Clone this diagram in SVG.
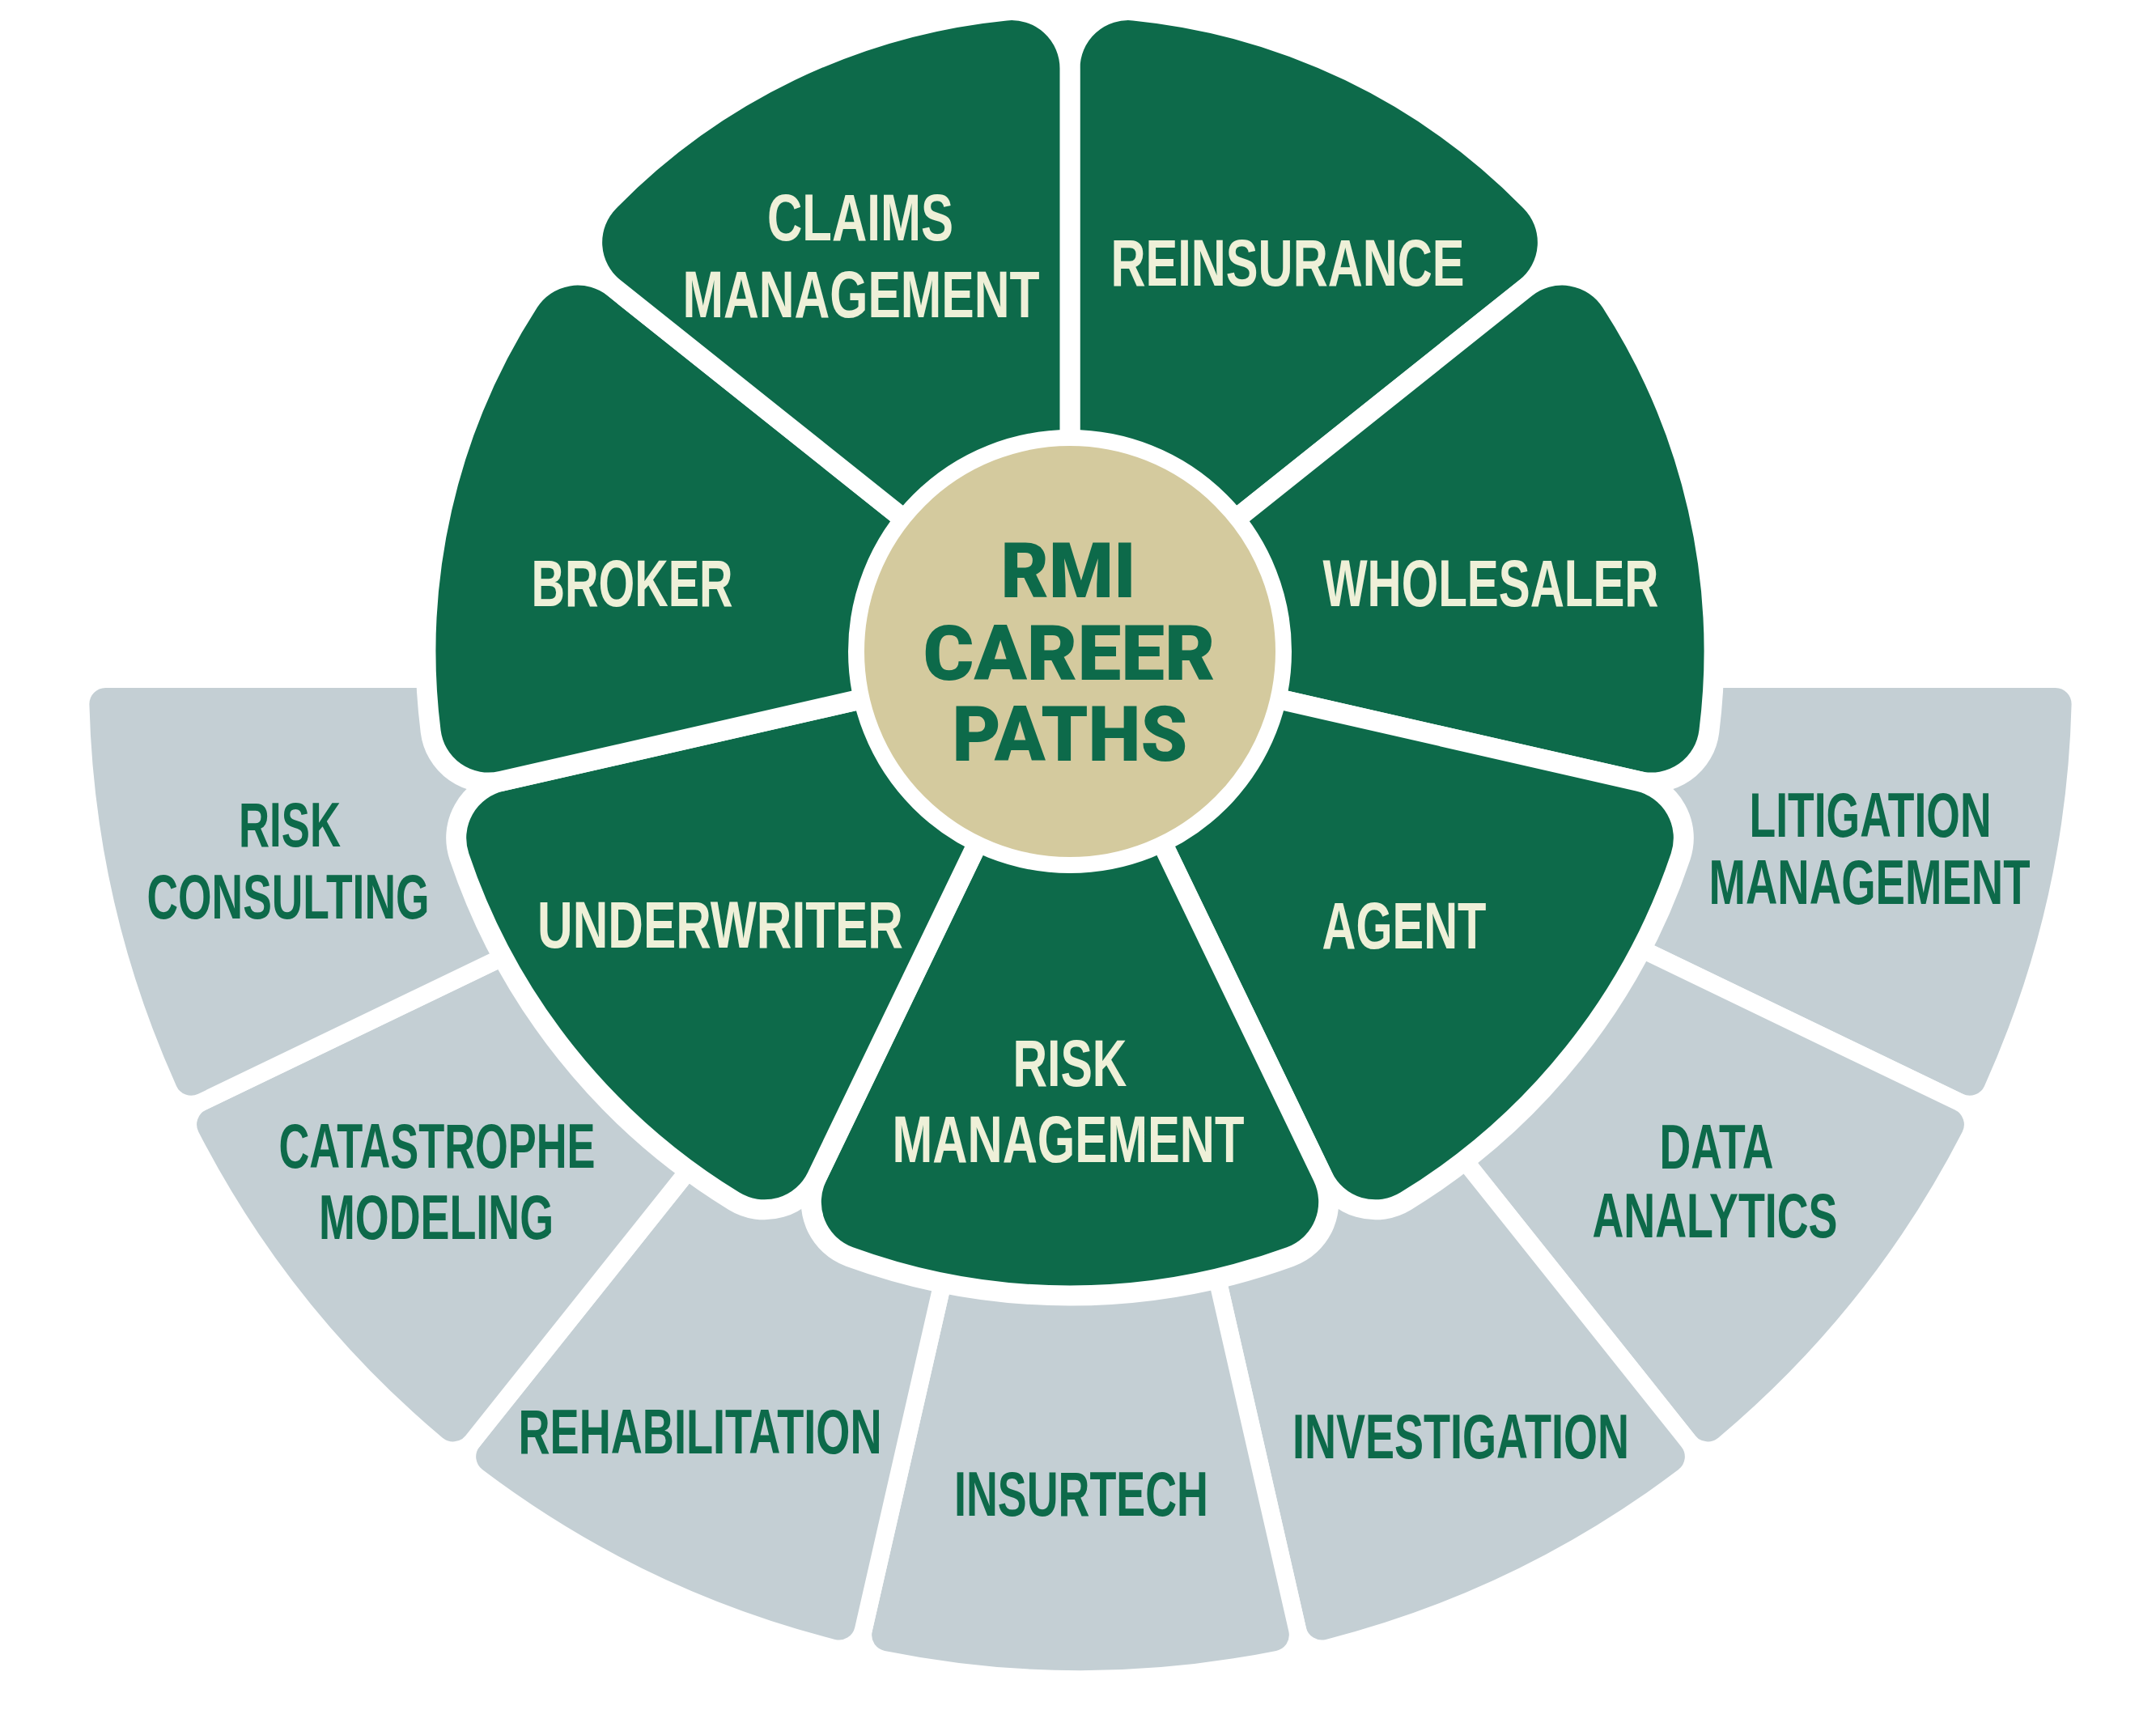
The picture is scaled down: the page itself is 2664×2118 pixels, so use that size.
<svg xmlns="http://www.w3.org/2000/svg" width="2664" height="2118" viewBox="0 0 2664 2118">
<style>
.petal{fill:#0D6A4A;stroke:#FFFFFF;stroke-width:25;stroke-linejoin:round}
.seg{fill:#C4CFD4;stroke:#FFFFFF;stroke-width:22;stroke-linejoin:round}
.pl{font-family:"Liberation Sans Narrow","Liberation Sans",Arial,sans-serif;font-weight:bold;font-size:82px;fill:#EEF0D8;text-anchor:middle}
.gl{font-family:"Liberation Sans Narrow","Liberation Sans",Arial,sans-serif;font-weight:bold;font-size:77px;fill:#0D6A4A;text-anchor:middle}
.ct{font-family:Roboto,"Liberation Sans",Arial,sans-serif;font-weight:900;font-size:94px;fill:#0D6A4A;text-anchor:middle}
</style>
<rect width="2664" height="2118" fill="#FFFFFF"/>
<g id="outer-ring">
<g id="seg-litigation-management">
<path class="seg" d="M1785,839 L2539.6,839 A31,31 0 0 1 2570.59,870.8 A1236,1236 0 0 1 2462.05,1346.46 A31,31 0 0 1 2420.31,1361.65 L1740.44,1034.25 A450,450 0 0 0 1785,839 Z"/>
<text class="gl" x="2311" y="1034" textLength="299" lengthAdjust="spacingAndGlyphs">LITIGATION</text>
<text class="gl" x="2310" y="1117" textLength="397" lengthAdjust="spacingAndGlyphs">MANAGEMENT</text>
</g>
<g id="seg-data-analytics">
<path class="seg" d="M1740.44,1034.25 L2420.31,1361.65 A31,31 0 0 1 2434.45,1403.75 A1236,1236 0 0 1 2130.24,1785.19 A31,31 0 0 1 2086.06,1780.79 L1615.57,1190.82 A450,450 0 0 0 1740.44,1034.25 Z"/>
<text class="gl" x="2121" y="1444" textLength="141" lengthAdjust="spacingAndGlyphs">DATA</text>
<text class="gl" x="2119" y="1529" textLength="303" lengthAdjust="spacingAndGlyphs">ANALYTICS</text>
</g>
<g id="seg-investigation">
<path class="seg" d="M1615.57,1190.82 L2086.06,1780.79 A31,31 0 0 1 2080.52,1824.86 A1236,1236 0 0 1 1640.95,2036.55 A31,31 0 0 1 1603.04,2013.4 L1435.13,1277.72 A450,450 0 0 0 1615.57,1190.82 Z"/>
<text class="gl" x="1805" y="1802" textLength="416" lengthAdjust="spacingAndGlyphs">INVESTIGATION</text>
</g>
<g id="seg-insurtech">
<path class="seg" d="M1435.13,1277.72 L1603.04,2013.4 A31,31 0 0 1 1578.95,2050.69 A1236,1236 0 0 1 1091.05,2050.69 A31,31 0 0 1 1066.96,2013.4 L1234.87,1277.72 A450,450 0 0 0 1435.13,1277.72 Z"/>
<text class="gl" x="1336" y="1873" textLength="314" lengthAdjust="spacingAndGlyphs">INSURTECH</text>
</g>
<g id="seg-rehabilitation">
<path class="seg" d="M1234.87,1277.72 L1066.96,2013.4 A31,31 0 0 1 1029.05,2036.55 A1236,1236 0 0 1 589.48,1824.86 A31,31 0 0 1 583.94,1780.79 L1054.43,1190.82 A450,450 0 0 0 1234.87,1277.72 Z"/>
<text class="gl" x="865" y="1796" textLength="449" lengthAdjust="spacingAndGlyphs">REHABILITATION</text>
</g>
<g id="seg-catastrophe-modeling">
<path class="seg" d="M1054.43,1190.82 L583.94,1780.79 A31,31 0 0 1 539.76,1785.19 A1236,1236 0 0 1 235.55,1403.75 A31,31 0 0 1 249.69,1361.65 L929.56,1034.25 A450,450 0 0 0 1054.43,1190.82 Z"/>
<text class="gl" x="540" y="1443" textLength="391" lengthAdjust="spacingAndGlyphs">CATASTROPHE</text>
<text class="gl" x="539" y="1531" textLength="290" lengthAdjust="spacingAndGlyphs">MODELING</text>
</g>
<g id="seg-risk-consulting">
<path class="seg" d="M929.56,1034.25 L249.69,1361.65 A31,31 0 0 1 207.95,1346.46 A1236,1236 0 0 1 99.41,870.8 A31,31 0 0 1 130.4,839 L885,839 A450,450 0 0 0 929.56,1034.25 Z"/>
<text class="gl" x="358" y="1046" textLength="126" lengthAdjust="spacingAndGlyphs">RISK</text>
<text class="gl" x="356" y="1135" textLength="349" lengthAdjust="spacingAndGlyphs">CONSULTING</text>
</g>
</g>
<g id="petals">
<g id="petal-reinsurance">
<path class="petal" d="M1322,805 L1322,84.6 A72,72 0 0 1 1401.16,12.95 A796,796 0 0 1 1891.9,249.26 A72,72 0 0 1 1885.23,355.84 Z"/>
<text class="pl" x="1591" y="353" textLength="437" lengthAdjust="spacingAndGlyphs">REINSURANCE</text>
</g>
<g id="petal-wholesaler">
<path class="petal" d="M1322,805 L1885.23,355.84 A72,72 0 0 1 1990.61,373.05 A796,796 0 0 1 2111.81,904.08 A72,72 0 0 1 2024.34,965.3 Z"/>
<text class="pl" x="1842" y="749" textLength="415" lengthAdjust="spacingAndGlyphs">WHOLESALER</text>
</g>
<g id="petal-agent">
<path class="petal" d="M1322,805 L2024.34,965.3 A72,72 0 0 1 2076.58,1058.41 A796,796 0 0 1 1736.97,1484.27 A72,72 0 0 1 1634.57,1454.06 Z"/>
<text class="pl" x="1735" y="1172" textLength="203" lengthAdjust="spacingAndGlyphs">AGENT</text>
</g>
<g id="petal-risk-management">
<path class="petal" d="M1322,805 L1634.57,1454.06 A72,72 0 0 1 1594.34,1552.96 A796,796 0 0 1 1049.66,1552.96 A72,72 0 0 1 1009.43,1454.06 Z"/>
<text class="pl" x="1322" y="1342" textLength="141" lengthAdjust="spacingAndGlyphs">RISK</text>
<text class="pl" x="1320" y="1436" textLength="435" lengthAdjust="spacingAndGlyphs">MANAGEMENT</text>
</g>
<g id="petal-underwriter">
<path class="petal" d="M1322,805 L1009.43,1454.06 A72,72 0 0 1 907.03,1484.27 A796,796 0 0 1 567.42,1058.41 A72,72 0 0 1 619.66,965.3 Z"/>
<text class="pl" x="890" y="1171" textLength="452" lengthAdjust="spacingAndGlyphs">UNDERWRITER</text>
</g>
<g id="petal-broker">
<path class="petal" d="M1322,805 L619.66,965.3 A72,72 0 0 1 532.19,904.08 A796,796 0 0 1 653.39,373.05 A72,72 0 0 1 758.77,355.84 Z"/>
<text class="pl" x="781" y="749" textLength="249" lengthAdjust="spacingAndGlyphs">BROKER</text>
</g>
<g id="petal-claims-management">
<path class="petal" d="M1322,805 L758.77,355.84 A72,72 0 0 1 752.1,249.26 A796,796 0 0 1 1242.84,12.95 A72,72 0 0 1 1322,84.6 Z"/>
<text class="pl" x="1063" y="297" textLength="230" lengthAdjust="spacingAndGlyphs">CLAIMS</text>
<text class="pl" x="1064" y="392" textLength="441" lengthAdjust="spacingAndGlyphs">MANAGEMENT</text>
</g>
</g>
<g id="center">
<circle cx="1322" cy="805" r="264" fill="#D4CA9E" stroke="#FFFFFF" stroke-width="20"/>
<text class="ct" x="1320" y="738" textLength="167" lengthAdjust="spacingAndGlyphs">RMI</text>
<text class="ct" x="1321" y="840" textLength="361" lengthAdjust="spacingAndGlyphs">CAREER</text>
<text class="ct" x="1322" y="940" textLength="291" lengthAdjust="spacingAndGlyphs">PATHS</text>
</g>
<g id="connectors"/>
</svg>
